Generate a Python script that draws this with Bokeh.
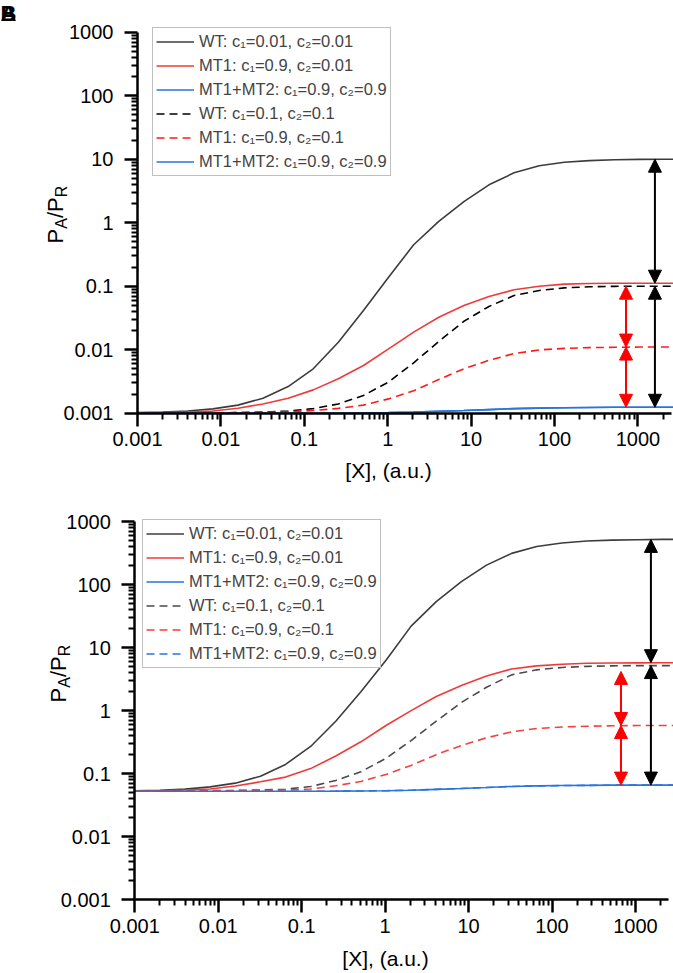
import math
from bokeh.plotting import figure
from bokeh.models import (FixedTicker, Legend, LegendItem, Label, Arrow,
                          NormalHead, Range1d)
from bokeh.layouts import column
from bokeh.embed import file_html
from bokeh.resources import INLINE

# ---------------- data ----------------
x_conc = [0.001, 0.002, 0.004, 0.008, 0.016, 0.032, 0.064, 0.128, 0.256, 0.512,
          1.024, 2.048, 4.096, 8.192, 16.384, 32.768, 65.536, 131.072, 262.144,
          524.288, 1048.576, 2097.152, 4194.304]

# panel A
a_wt_solid = [0.00102, 0.00104, 0.00108, 0.00117, 0.00134, 0.00172, 0.00263, 0.0050,
              0.0131, 0.0414, 0.138, 0.45, 1.05, 2.15, 3.95, 6.1, 7.9, 8.95, 9.5,
              9.8, 9.95, 10.0, 10.0]
a_mt1_solid = [0.00101, 0.00102, 0.00104, 0.00108, 0.0012, 0.0014, 0.00172, 0.00233,
               0.00348, 0.00564, 0.0103, 0.0189, 0.0325, 0.0497, 0.069, 0.0877, 0.1,
               0.1077, 0.110, 0.111, 0.1115, 0.1115, 0.1115]
a_mt12_solid = [0.001, 0.001, 0.001, 0.001, 0.001, 0.001, 0.001, 0.001, 0.001, 0.00101,
                0.00102, 0.00104, 0.00107, 0.0011, 0.00114, 0.00118, 0.0012, 0.00122,
                0.00123, 0.00124, 0.00124, 0.00124, 0.00124]
a_wt_dash = [0.001, 0.001, 0.00101, 0.00101, 0.00102, 0.00104, 0.00108, 0.00118, 0.0014,
             0.0019, 0.0031, 0.0062, 0.0135, 0.028, 0.048, 0.0714, 0.0856, 0.094, 0.098,
             0.0995, 0.1, 0.1, 0.1]
a_mt1_dash = [0.001, 0.001, 0.001, 0.00101, 0.00102, 0.00103, 0.00105, 0.0011, 0.00119,
              0.00134, 0.00168, 0.00225, 0.0034, 0.0050, 0.0068, 0.0087, 0.0099, 0.0105,
              0.0108, 0.0109, 0.011, 0.011, 0.011]
a_mt12_dash = [0.001, 0.001, 0.001, 0.001, 0.001, 0.001, 0.001, 0.001, 0.001, 0.00101,
               0.00102, 0.00104, 0.00107, 0.0011, 0.00114, 0.00118, 0.0012, 0.00122,
               0.00123, 0.00124, 0.00124, 0.00124, 0.00124]

# panel B
b_wt_solid = [0.0535, 0.0545, 0.0567, 0.0615, 0.0705, 0.091, 0.14, 0.27, 0.68, 2.0,
              6.3, 22, 54, 112, 205, 315, 405, 460, 495, 512, 520, 525, 527]
b_mt1_solid = [0.053, 0.0535, 0.0548, 0.057, 0.0635, 0.074, 0.088, 0.12, 0.19, 0.32,
               0.58, 1.0, 1.68, 2.5, 3.55, 4.6, 5.15, 5.45, 5.65, 5.72, 5.75, 5.78, 5.78]
b_mt12_solid = [0.0525, 0.0525, 0.0525, 0.0525, 0.0525, 0.0525, 0.0525, 0.0525, 0.0526,
                0.053, 0.0535, 0.0545, 0.0562, 0.058, 0.06, 0.0625, 0.0638, 0.0646,
                0.065, 0.0655, 0.0657, 0.0657, 0.0657]
b_wt_dash = [0.053, 0.053, 0.0532, 0.0535, 0.054, 0.055, 0.0565, 0.0624, 0.0777, 0.107,
             0.175, 0.335, 0.68, 1.35, 2.35, 3.7, 4.45, 4.85, 5.05, 5.15, 5.2, 5.2, 5.2]
b_mt1_dash = [0.053, 0.053, 0.053, 0.0532, 0.0535, 0.054, 0.055, 0.057, 0.064, 0.075,
              0.097, 0.135, 0.2, 0.28, 0.37, 0.46, 0.52, 0.55, 0.565, 0.575, 0.58, 0.58,
              0.58]
b_mt12_dash = [0.0525, 0.0525, 0.0525, 0.0525, 0.0525, 0.0525, 0.0525, 0.0525, 0.0526,
               0.053, 0.0535, 0.0545, 0.0562, 0.058, 0.06, 0.0625, 0.0638, 0.0646,
               0.065, 0.0655, 0.0657, 0.0657, 0.0657]

legend_labels = ["WT: c\u2081=0.01, c\u2082=0.01",
                 "MT1: c\u2081=0.9, c\u2082=0.01",
                 "MT1+MT2: c\u2081=0.9, c\u2082=0.9",
                 "WT: c\u2081=0.1, c\u2082=0.1",
                 "MT1: c\u2081=0.9, c\u2082=0.1",
                 "MT1+MT2: c\u2081=0.9, c\u2082=0.9"]

tick_values = [0.001, 0.01, 0.1, 1, 10, 100, 1000]
tick_labels = ["0.001", "0.01", "0.1", "1", "10", "100", "1000"]
x_bounds = (0.001, 2500)
y_bounds = (0.001, 1000)

# double arrows: (x, y_from, y_to, colour)
a_arrows = [(1600, 10.0, 0.1115, "black"), (1600, 0.1, 0.00124, "black"),
            (720, 0.1, 0.011, "red"), (720, 0.011, 0.00124, "red")]
b_arrows = [(1530, 525, 5.78, "black"), (1530, 5.2, 0.0657, "black"),
            (670, 4.2, 0.58, "red"), (670, 0.58, 0.0657, "red")]

FONT = "Liberation Sans"
minor_all = [k * d for d in [0.001, 0.01, 0.1, 1, 10, 100, 1000] for k in range(2, 10)]
W = 673


def make_panel(series, styles, arrows, H, geom, legend_loc, ylab_pos, xlab_pos,
               letters=False):
    # geom: pixel position of the y-axis line, px per x decade,
    #       pixel position of the top (1000) tick, px per y decade
    left, dec_x, top, dec_y = geom
    xr = Range1d(10 ** (-3 - left / dec_x), 10 ** (-3 + (W - left) / dec_x))
    yr = Range1d(10 ** (3 - (H - top) / dec_y), 10 ** (3 + top / dec_y))
    p = figure(width=W, height=H, x_axis_type="log", y_axis_type="log",
               x_range=xr, y_range=yr, output_backend="svg",
               toolbar_location=None, title=None, min_border=0)
    p.xgrid.visible = False
    p.ygrid.visible = False
    p.outline_line_color = None
    for ax, b in ((p.xaxis[0], x_bounds), (p.yaxis[0], y_bounds)):
        ax.fixed_location = 0.001
        ax.bounds = b
        ax.ticker = FixedTicker(ticks=tick_values,
                                minor_ticks=[m for m in minor_all if b[0] < m < b[1]])
        ax.major_label_overrides = dict(zip(tick_values, tick_labels))
        ax.axis_line_width = 2.5
        ax.axis_line_color = "black"
        ax.major_tick_line_width = 2.5
        ax.minor_tick_line_width = 2
        ax.major_tick_out = 13
        ax.major_tick_in = 0
        ax.minor_tick_out = 6
        ax.minor_tick_in = 0
        ax.major_label_text_font = FONT
        ax.major_label_text_font_size = "20px"
        ax.major_label_text_color = "black"
    p.xaxis[0].major_label_standoff = 6
    p.yaxis[0].major_label_standoff = 11

    items = []
    for ys, (color, dash), lab in zip(series, styles, legend_labels):
        r = p.line(x_conc, ys, line_color=color, line_width=1.6, line_dash=dash)
        items.append(LegendItem(label=lab, renderers=[r]))

    for (xa, y1, y2, col) in arrows:
        p.add_layout(Arrow(x_start=xa, y_start=y1, x_end=xa, y_end=y2,
                           line_color=col, line_width=2,
                           start=NormalHead(size=13, fill_color=col, line_color=col),
                           end=NormalHead(size=13, fill_color=col, line_color=col)))

    leg = Legend(items=items, location=legend_loc, margin=0, padding=3, spacing=3,
                 label_height=21, glyph_height=21, glyph_width=38, label_standoff=5,
                 border_line_color="#808080", border_line_width=1,
                 label_text_font=FONT, label_text_font_size="16.5px",
                 background_fill_color="white", background_fill_alpha=1)
    p.add_layout(leg)

    # y-axis label P_A/P_R built from pieces (rotated, reading upwards)
    xb, y0 = ylab_pos
    pieces = [("P", 22, 0, 0.0), ("A", 16, 6, 14.7), ("/", 22, 0, 25.4),
              ("P", 22, 0, 31.5), ("R", 16, 6, 46.2)]
    for txt, fs, dx, dy in pieces:
        p.add_layout(Label(x=xb + dx, y=y0 + dy, x_units="screen", y_units="screen",
                           text=txt, angle=math.pi / 2, text_font=FONT,
                           text_font_size=f"{fs}px", text_align="left",
                           text_baseline="alphabetic", text_color="black"))
    p.add_layout(Label(x=xlab_pos[0], y=xlab_pos[1], x_units="screen", y_units="screen",
                       text="[X], (a.u.)", text_font=FONT, text_font_size="21px",
                       text_align="center", text_baseline="middle", text_color="black"))
    if letters:
        for t in ("A", "B"):
            p.add_layout(Label(x=0, y=H, x_units="screen", y_units="screen",
                               text=t, text_font=FONT, text_font_size="22px",
                               text_font_style="bold", text_align="left",
                               text_baseline="top", text_color="black"))
    return p


styles_a = [("#3c3c3c", "solid"), ("#f03a3a", "solid"), ("#2a74dd", "solid"),
            ("black", "8 5"), ("#ff1a1a", "8 5"), ("#2a74dd", "solid")]
styles_b = [("#3c3c3c", "solid"), ("#f03a3a", "solid"), ("#2a74dd", "solid"),
            ("#4a4a4a", "8 5"), ("#f04040", "8 5"), ("#2a74dd", "8 5")]

H_A, H_B = 489, 484
pa = make_panel([a_wt_solid, a_mt1_solid, a_mt12_solid, a_wt_dash, a_mt1_dash, a_mt12_dash],
                styles_a, a_arrows, H_A, (137, 83.4, 31.7, 63.5),
                (152, H_A - 176), (55, H_A - 243), (388, H_A - 470), letters=True)
pb = make_panel([b_wt_solid, b_mt1_solid, b_mt12_solid, b_wt_dash, b_mt1_dash, b_mt12_dash],
                styles_b, b_arrows, H_B, (134.3, 83.45, 32.3, 62.95),
                (142, H_B - 179), (58, H_B - 213), (385, H_B - 469))

layout = column(pa, pb, spacing=0)
open("out.html", "w").write(file_html(layout, INLINE))
